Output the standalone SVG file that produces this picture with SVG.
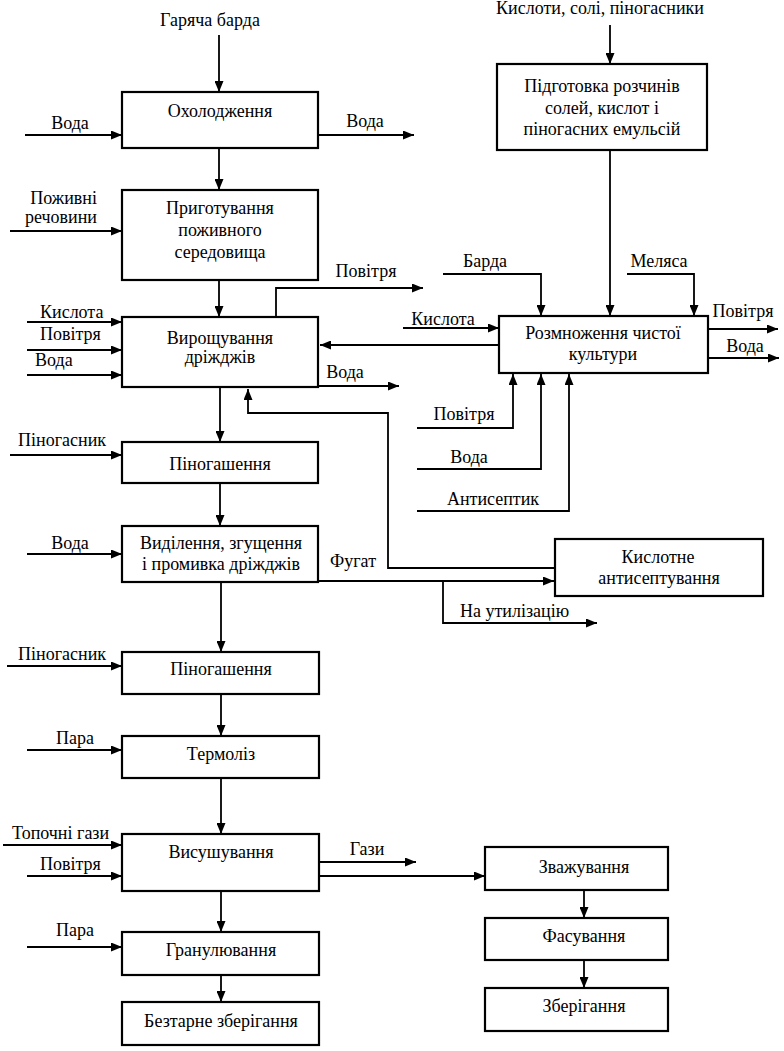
<svg xmlns="http://www.w3.org/2000/svg" width="784" height="1051" viewBox="0 0 784 1051">
<defs>
<marker id="ah" markerWidth="11" markerHeight="9" refX="11" refY="4.5" orient="auto" markerUnits="userSpaceOnUse">
<path d="M0,0 L11,4.5 L0,9 Z" fill="#000"/>
</marker>
<style>
.box{fill:#fff;stroke:#000;stroke-width:2.2}
text{font-family:'Liberation Serif','Times New Roman',serif;font-size:18px;fill:#000}
.c{text-anchor:middle}
.r{text-anchor:end}
.ln{fill:none;stroke:#000;stroke-width:1.8}
.a{marker-end:url(#ah)}
</style>
</defs>
<rect width="784" height="1051" fill="#fff"/>

<g id="connectors">
<path class="ln a" d="M219,35 V92"/>
<path class="ln a" d="M25,135 H122"/>
<path class="ln a" d="M318,135 H414"/>
<path class="ln a" d="M219,148 V190"/>
<path class="ln a" d="M10,231 H122"/>
<path class="ln a" d="M219,280 V317"/>
<path class="ln a" d="M276,316 V288 H423"/>
<path class="ln a" d="M27,322 H122"/>
<path class="ln a" d="M27,350 H122"/>
<path class="ln a" d="M27,375 H122"/>
<path class="ln a" d="M499,345 H320"/>
<path class="ln a" d="M318,386 H399"/>
<path class="ln a" d="M220,387 V442"/>
<path class="ln a" d="M555,568 H388 V413 H248 V389"/>
<path class="ln a" d="M10,455 H122"/>
<path class="ln a" d="M220,483 V526"/>
<path class="ln a" d="M27,554 H122"/>
<path class="ln a" d="M318,581 H554"/>
<path class="ln a" d="M443,581 V623 H597"/>
<path class="ln a" d="M221,582 V652"/>
<path class="ln a" d="M7,666 H122"/>
<path class="ln a" d="M221,694 V736"/>
<path class="ln a" d="M27,750 H122"/>
<path class="ln a" d="M221,778 V834"/>
<path class="ln a" d="M3,845 H122"/>
<path class="ln a" d="M27,876 H122"/>
<path class="ln a" d="M318,862 H416"/>
<path class="ln a" d="M318,876 H485"/>
<path class="ln a" d="M221,891 V932"/>
<path class="ln a" d="M27,947 H122"/>
<path class="ln a" d="M221,975 V1002"/>
<path class="ln a" d="M584,890 V918"/>
<path class="ln a" d="M584,960 V988"/>
<path class="ln a" d="M610,25 V64"/>
<path class="ln a" d="M610,150 V316"/>
<path class="ln a" d="M443,274 H541 V316"/>
<path class="ln a" d="M627,274 H694 V316"/>
<path class="ln a" d="M403,328 H499"/>
<path class="ln a" d="M708,329 H778"/>
<path class="ln a" d="M708,358 H779"/>
<path class="ln a" d="M417,428 H513 V374"/>
<path class="ln a" d="M417,469 H541 V374"/>
<path class="ln a" d="M417,511 H569 V374"/>
</g>

<g id="labels">
<text class="c" x="210" y="26">Гаряча барда</text>
<text class="c" x="70" y="129">Вода</text>
<text class="c" x="365" y="127">Вода</text>
<text class="r" x="97" y="204">Поживні</text>
<text class="r" x="97" y="223">речовини</text>
<text class="c" x="366" y="277">Повітря</text>
<text x="40" y="318">Кислота</text>
<text x="40" y="340">Повітря</text>
<text x="35" y="366">Вода</text>
<text class="c" x="345" y="378">Вода</text>
<text x="18" y="446">Піногасник</text>
<text class="c" x="70" y="549">Вода</text>
<text class="c" x="353" y="567">Фугат</text>
<text x="460" y="617">На утилізацію</text>
<text x="18" y="660">Піногасник</text>
<text class="c" x="75" y="744">Пара</text>
<text x="12" y="839">Топочні гази</text>
<text x="40" y="870">Повітря</text>
<text class="c" x="367" y="855">Гази</text>
<text class="c" x="75" y="936">Пара</text>
<text class="c" x="600" y="14">Кислоти, солі, піногасники</text>
<text class="c" x="485" y="267">Барда</text>
<text class="c" x="659" y="267">Меляса</text>
<text class="c" x="443" y="325">Кислота</text>
<text class="c" x="743" y="317">Повітря</text>
<text class="c" x="745" y="352">Вода</text>
<text class="c" x="464" y="420">Повітря</text>
<text class="c" x="469" y="463">Вода</text>
<text class="c" x="493" y="505">Антисептик</text>
</g>

<g id="n-oholodzhennya"><rect class="box" x="122" y="92" width="196" height="56"/><text class="c" x="220" y="117">Охолодження</text></g>
<g id="n-pryhotuvannya"><rect class="box" x="122" y="190" width="196" height="90"/><text class="c" x="220" y="214">Приготування</text><text class="c" x="220" y="236">поживного</text><text class="c" x="220" y="258">середовища</text></g>
<g id="n-vyroshchuvannya"><rect class="box" x="122" y="317" width="196" height="70"/><text class="c" x="220" y="344">Вирощування</text><text class="c" x="220" y="363">дріжджів</text></g>
<g id="n-pinohashennya1"><rect class="box" x="122" y="442" width="196" height="41"/><text class="c" x="220" y="470">Піногашення</text></g>
<g id="n-vydilennya"><rect class="box" x="122" y="526" width="196" height="56"/><text class="c" x="221" y="549">Виділення, згущення</text><text class="c" x="221" y="570">і промивка дріжджів</text></g>
<g id="n-pinohashennya2"><rect class="box" x="122" y="652" width="197" height="42"/><text class="c" x="221" y="675">Піногашення</text></g>
<g id="n-termoliz"><rect class="box" x="122" y="736" width="197" height="42"/><text class="c" x="221" y="760">Термоліз</text></g>
<g id="n-vysushuvannya"><rect class="box" x="122" y="834" width="197" height="57"/><text class="c" x="221" y="858">Висушування</text></g>
<g id="n-hranulyuvannya"><rect class="box" x="122" y="932" width="197" height="43"/><text class="c" x="221" y="956">Гранулювання</text></g>
<g id="n-beztarne"><rect class="box" x="122" y="1002" width="197" height="43"/><text class="c" x="221" y="1027">Безтарне зберігання</text></g>
<g id="n-pidhotovka"><rect class="box" x="497" y="64" width="210" height="86"/><text class="c" x="602" y="92">Підготовка розчинів</text><text class="c" x="602" y="114">солей, кислот і</text><text class="c" x="602" y="135">піногасних емульсій</text></g>
<g id="n-rozmnozhennya"><rect class="box" x="499" y="316" width="209" height="57"/><text class="c" x="603" y="339">Розмноження чистої</text><text class="c" x="603" y="360">культури</text></g>
<g id="n-kyslotne"><rect class="box" x="555" y="539" width="208" height="57"/><text class="c" x="658" y="563">Кислотне</text><text class="c" x="659" y="584">антисептування</text></g>
<g id="n-zvazhuvannya"><rect class="box" x="485" y="847" width="183" height="43"/><text class="c" x="584" y="873">Зважування</text></g>
<g id="n-fasuvannya"><rect class="box" x="485" y="918" width="183" height="42"/><text class="c" x="584" y="942">Фасування</text></g>
<g id="n-zberihannya"><rect class="box" x="485" y="988" width="183" height="43"/><text class="c" x="584" y="1012">Зберігання</text></g>
</svg>
